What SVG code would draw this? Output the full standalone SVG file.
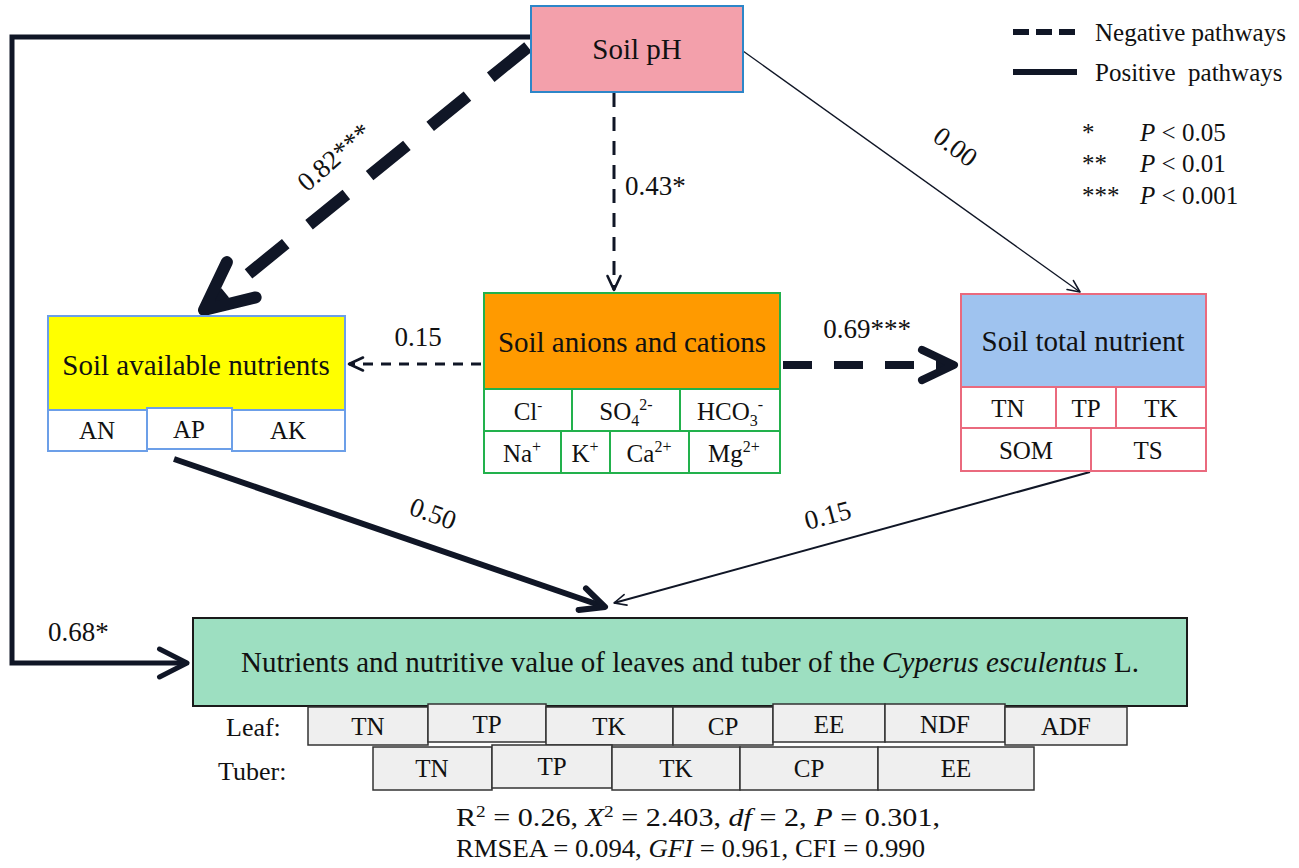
<svg xmlns="http://www.w3.org/2000/svg" width="1299" height="868" viewBox="0 0 1299 868">
<style>
text{font-family:"Liberation Serif","Times New Roman",serif;fill:#111;}
.h{font-size:29px;text-anchor:middle;}
.c{font-size:25px;text-anchor:middle;}
.lb{font-size:27px;}
.lg{font-size:25px;}
.cell{fill:#fff;stroke-width:2;}
.gc{fill:#efefef;stroke:#333;stroke-width:1.5;}
.ln{fill:none;stroke:#101626;}
</style>
<defs>
<marker id="chev" viewBox="-5.5 -3 6.5 6" refX="0" refY="0" markerWidth="6.5" markerHeight="6" orient="auto" markerUnits="strokeWidth">
<path d="M-4,-1.9 L0,0 L-4,1.9" fill="none" stroke="#101626" stroke-width="1" stroke-linecap="round" stroke-linejoin="round"/>
</marker>
<marker id="chevL" viewBox="-7 -4 8 8" refX="0" refY="0" markerWidth="8" markerHeight="8" orient="auto" markerUnits="strokeWidth">
<path d="M-5.5,-2.8 L0,0 L-5.5,2.8" fill="none" stroke="#101626" stroke-width="1" stroke-linecap="round" stroke-linejoin="round"/>
</marker>
<marker id="chevM" viewBox="-18 -9 20 18" refX="0" refY="0" markerWidth="20" markerHeight="18" orient="auto" markerUnits="userSpaceOnUse">
<path d="M-14,-6.5 L0,0 L-14,6.5" fill="none" stroke="#101626" stroke-width="2.6" stroke-linecap="round" stroke-linejoin="round"/>
</marker>
<marker id="chevT" viewBox="-16 -8 18 16" refX="0" refY="0" markerWidth="18" markerHeight="16" orient="auto" markerUnits="userSpaceOnUse">
<path d="M-12,-5.5 L0,0 L-12,5.5" fill="none" stroke="#101626" stroke-width="1.6" stroke-linecap="round" stroke-linejoin="round"/>
</marker>
</defs>

<g id="connectors">
<path class="ln" d="M530,37 H12 V663 H187" stroke-width="5" marker-end="url(#chevL)"/>
<path class="ln" d="M528,47 L204,310" stroke-width="12" stroke-dasharray="48 30" marker-end="url(#chev)"/>
<path class="ln" d="M614,93 L614,290" stroke-width="3" stroke-dasharray="14 10" marker-end="url(#chevM)"/>
<path class="ln" d="M743,51 L1080,292" stroke-width="1.3" marker-end="url(#chevT)"/>
<path class="ln" d="M481,364 L349,364" stroke-width="3" stroke-dasharray="10 8" marker-end="url(#chevM)"/>
<path class="ln" d="M783,365 L954,365" stroke-width="8" stroke-dasharray="29 22" marker-end="url(#chev)"/>
<path class="ln" d="M174,459 L605,607" stroke-width="6" marker-end="url(#chev)"/>
<path class="ln" d="M1090,472 L614,603" stroke-width="2" marker-end="url(#chevT)"/>
<text class="lb" text-anchor="middle" transform="translate(340,164) rotate(-41)">0.82***</text>
<text class="lb" x="625" y="195">0.43*</text>
<text class="lb" text-anchor="middle" transform="translate(950,154) rotate(37)">0.00</text>
<text class="lb" x="418" y="346" text-anchor="middle">0.15</text>
<text class="lb" x="867" y="338" text-anchor="middle">0.69***</text>
<text class="lb" text-anchor="middle" transform="translate(430,522) rotate(20)">0.50</text>
<text class="lb" text-anchor="middle" transform="translate(830,524) rotate(-15)">0.15</text>
<text class="lb" x="48" y="641" font-size="29">0.68*</text>
</g>

<g id="soil-ph">
<rect x="531" y="6" width="212" height="86" fill="#f3a0ab" stroke="#2d86c8" stroke-width="2"/>
<text class="h" x="637" y="59">Soil pH</text>
</g>

<g id="soil-available-nutrients">
<rect x="48" y="316" width="297" height="94" fill="#ffff00" stroke="#6c9fe8" stroke-width="2"/>
<text class="h" x="196" y="375">Soil available nutrients</text>
<rect class="cell" x="48" y="410" width="99" height="41" stroke="#6c9fe8"/>
<rect class="cell" x="147" y="408" width="85" height="41" stroke="#6c9fe8"/>
<rect class="cell" x="232" y="410" width="113" height="41" stroke="#6c9fe8"/>
<text class="c" x="97" y="439">AN</text>
<text class="c" x="189" y="438">AP</text>
<text class="c" x="288" y="439">AK</text>
</g>

<g id="soil-anions-cations">
<rect x="484" y="293" width="296" height="96" fill="#ff9a00" stroke="#22b14c" stroke-width="2"/>
<text class="h" x="632" y="352">Soil anions and cations</text>
<rect class="cell" x="484" y="389" width="88" height="42" stroke="#22b14c"/>
<rect class="cell" x="572" y="389" width="108" height="42" stroke="#22b14c"/>
<rect class="cell" x="680" y="389" width="100" height="42" stroke="#22b14c"/>
<rect class="cell" x="484" y="431" width="77" height="42" stroke="#22b14c"/>
<rect class="cell" x="561" y="431" width="49" height="42" stroke="#22b14c"/>
<rect class="cell" x="610" y="431" width="79" height="42" stroke="#22b14c"/>
<rect class="cell" x="689" y="431" width="91" height="42" stroke="#22b14c"/>
<text class="c" x="528" y="420">Cl<tspan font-size="15" dy="-10">-</tspan></text>
<text class="c" x="626" y="420">SO<tspan font-size="16" dy="6">4</tspan><tspan font-size="16" dy="-16">2-</tspan></text>
<text class="c" x="730" y="420">HCO<tspan font-size="16" dy="6">3</tspan><tspan font-size="16" dy="-16">-</tspan></text>
<text class="c" x="522" y="462">Na<tspan font-size="16" dy="-10">+</tspan></text>
<text class="c" x="585" y="462">K<tspan font-size="16" dy="-10">+</tspan></text>
<text class="c" x="649" y="462">Ca<tspan font-size="16" dy="-10">2+</tspan></text>
<text class="c" x="734" y="462">Mg<tspan font-size="16" dy="-10">2+</tspan></text>
</g>

<g id="soil-total-nutrient">
<rect x="961" y="294" width="245" height="93" fill="#9fc3ef" stroke="#ea6a7e" stroke-width="2"/>
<text class="h" x="1083" y="351">Soil total nutrient</text>
<rect class="cell" x="961" y="387" width="95" height="41" stroke="#ea6a7e"/>
<rect class="cell" x="1056" y="387" width="60" height="41" stroke="#ea6a7e"/>
<rect class="cell" x="1116" y="387" width="90" height="41" stroke="#ea6a7e"/>
<rect class="cell" x="961" y="428" width="130" height="43" stroke="#ea6a7e"/>
<rect class="cell" x="1091" y="428" width="115" height="43" stroke="#ea6a7e"/>
<text class="c" x="1008" y="417">TN</text>
<text class="c" x="1086" y="417">TP</text>
<text class="c" x="1161" y="417">TK</text>
<text class="c" x="1026" y="459">SOM</text>
<text class="c" x="1148" y="459">TS</text>
</g>

<g id="leaves-tuber">
<rect x="193" y="618" width="994" height="88" fill="#9ddfc1" stroke="#1a1a1a" stroke-width="2"/>
<text x="690" y="672" font-size="29" text-anchor="middle">Nutrients and nutritive value of leaves and tuber of the <tspan font-style="italic">Cyperus esculentus</tspan> L.</text>
<text x="226" y="736" font-size="26">Leaf:</text>
<rect class="gc" x="308" y="707" width="120" height="38"/>
<rect class="gc" x="428" y="704" width="118" height="38"/>
<rect class="gc" x="546" y="707" width="127" height="38"/>
<rect class="gc" x="673" y="707" width="100" height="38"/>
<rect class="gc" x="773" y="704" width="112" height="38"/>
<rect class="gc" x="885" y="704" width="120" height="38"/>
<rect class="gc" x="1005" y="707" width="122" height="38"/>
<text class="c" x="368" y="735">TN</text>
<text class="c" x="487" y="733">TP</text>
<text class="c" x="609" y="735">TK</text>
<text class="c" x="723" y="735">CP</text>
<text class="c" x="829" y="733">EE</text>
<text class="c" x="945" y="733">NDF</text>
<text class="c" x="1066" y="735">ADF</text>
<text x="218" y="780" font-size="26">Tuber:</text>
<rect class="gc" x="373" y="747" width="119" height="43"/>
<rect class="gc" x="492" y="745" width="120" height="43"/>
<rect class="gc" x="612" y="747" width="128" height="43"/>
<rect class="gc" x="740" y="747" width="138" height="43"/>
<rect class="gc" x="878" y="747" width="156" height="43"/>
<text class="c" x="432" y="777">TN</text>
<text class="c" x="552" y="775">TP</text>
<text class="c" x="676" y="777">TK</text>
<text class="c" x="809" y="777">CP</text>
<text class="c" x="956" y="777">EE</text>
</g>

<g id="fit-stats">
<text x="456" y="826" font-size="25" textLength="484" lengthAdjust="spacingAndGlyphs">R<tspan font-size="16" dy="-9">2</tspan><tspan dy="9"> =  0.26,  </tspan><tspan font-style="italic">X</tspan><tspan font-size="16" dy="-9">2</tspan><tspan dy="9"> =  2.403,  </tspan><tspan font-style="italic">df</tspan> =  2,  <tspan font-style="italic">P</tspan> =  0.301,</text>
<text x="456" y="857" font-size="25" textLength="469" lengthAdjust="spacingAndGlyphs">RMSEA = 0.094, <tspan font-style="italic">GFI</tspan> = 0.961, CFI = 0.990</text>
</g>

<g id="legend">
<path class="ln" d="M1013,32 H1077" stroke-width="6" stroke-dasharray="16 7"/>
<path class="ln" d="M1013,72 H1077" stroke-width="6"/>
<text class="lg" x="1095" y="41">Negative pathways</text>
<text class="lg" x="1095" y="81" xml:space="preserve">Positive  pathways</text>
<text class="lg" x="1082" y="141">*</text>
<text class="lg" x="1082" y="172">**</text>
<text class="lg" x="1082" y="204">***</text>
<text class="lg" x="1140" y="141"><tspan font-style="italic">P</tspan> &lt; 0.05</text>
<text class="lg" x="1140" y="172"><tspan font-style="italic">P</tspan> &lt; 0.01</text>
<text class="lg" x="1140" y="204"><tspan font-style="italic">P</tspan> &lt; 0.001</text>
</g>
</svg>
